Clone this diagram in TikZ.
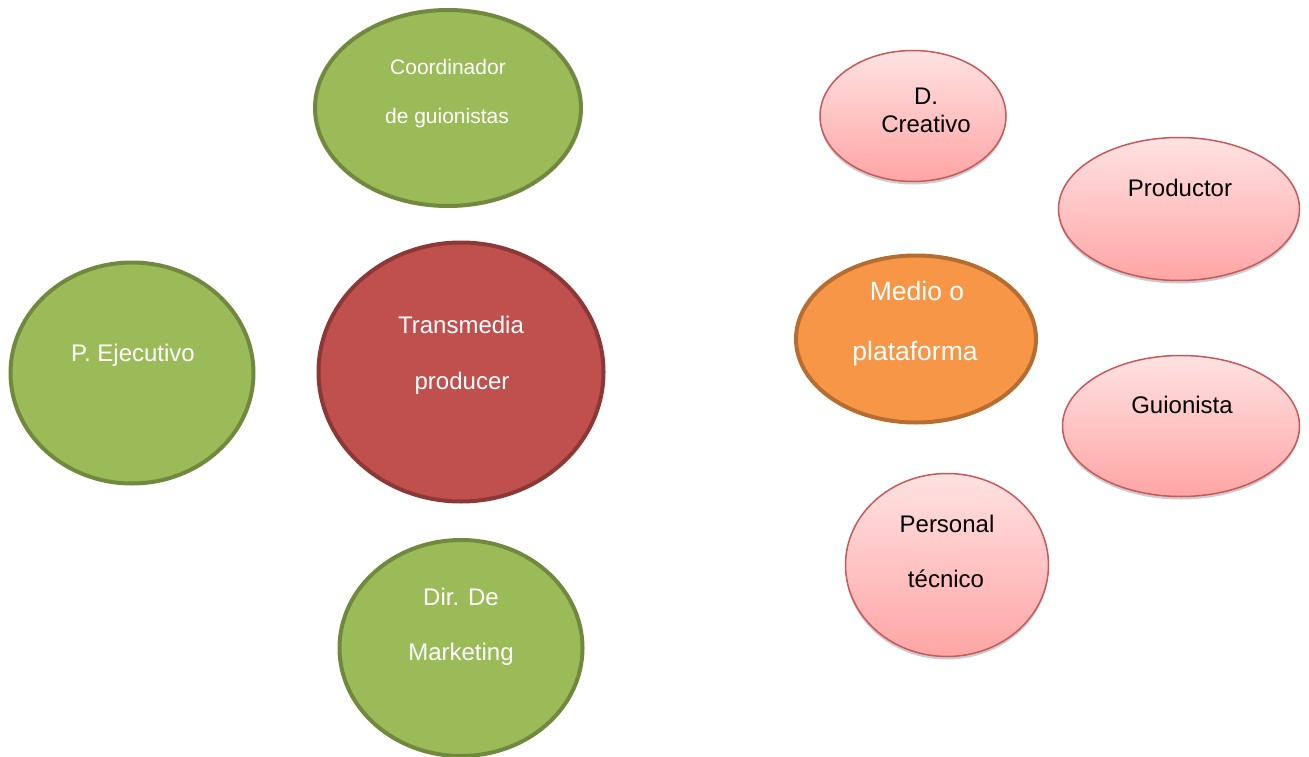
\documentclass[tikz,border=0pt]{standalone}
\usepackage{fontspec}
\setmainfont{Liberation Sans}
\usetikzlibrary{shapes.geometric,shadows}
\definecolor{gfill}{HTML}{9BBB59}
\definecolor{gline}{HTML}{71893F}
\definecolor{rfill}{HTML}{C0504D}
\definecolor{rline}{HTML}{8C3836}
\definecolor{ofill}{HTML}{F79646}
\definecolor{oline}{HTML}{B66D31}
\definecolor{ptop}{HTML}{FFE2E2}
\definecolor{pbot}{HTML}{FFA5A5}
\definecolor{pline}{HTML}{C9585A}
\tikzset{
  oval/.style={ellipse, inner sep=0pt},
  greenoval/.style={oval, fill=gfill, draw=gline, line width=4pt},
  redoval/.style={oval, fill=rfill, draw=rline, line width=4pt},
  orangeoval/.style={oval, fill=ofill, draw=oline, line width=4pt},
  pinkoval/.style={oval, top color=ptop, bottom color=pbot, draw=pline, line width=1.5pt,
     drop shadow={shadow xshift=0pt, shadow yshift=-3pt, opacity=0.2, fill=black}},
  wtxt/.style={anchor=mid, inner sep=0pt, text=white, font=\fontsize{24}{24}\selectfont},
  btxt/.style={anchor=mid, inner sep=0pt, text=black, font=\fontsize{24}{24}\selectfont},
}
\begin{document}
\begin{tikzpicture}[x=1pt,y=-1pt]
\useasboundingbox (0,0) rectangle (1309,757);
% green / red
\node[greenoval, minimum width=266pt, minimum height=196pt] (coord) at (448,108) {};
\node[greenoval, minimum width=243pt, minimum height=221pt] (ejec) at (132,373) {};
\node[redoval, minimum width=285pt, minimum height=259pt] (trans) at (461,372) {};
\node[greenoval, minimum width=243pt, minimum height=216pt] (mark) at (461,648) {};
% right group
\node[pinkoval, minimum width=186pt, minimum height=131pt] (creat) at (913,116) {};
\node[pinkoval, minimum width=241pt, minimum height=143pt] (prod) at (1179,209) {};
\node[orangeoval, minimum width=240pt, minimum height=167pt] (medio) at (916,339) {};
\node[pinkoval, minimum width=237pt, minimum height=141pt] (guion) at (1181,426) {};
\node[pinkoval, minimum width=203pt, minimum height=183pt] (pers) at (947,565) {};
% texts
\node[wtxt, font=\fontsize{21}{21}\selectfont] (t1) at (448,72) {Coordinador};
\node[wtxt, font=\fontsize{21}{21}\selectfont] (t2) at (447,121) {de guionistas};
\node[wtxt] (t3) at (133,359) {P. Ejecutivo};
\node[wtxt] (t4) at (461,331) {Transmedia};
\node[wtxt] (t5) at (462,387) {producer};
\node[wtxt] (t6) at (461,603) {Dir. De};
\node[wtxt] (t7) at (461,658) {Marketing};
\node[btxt] (t8) at (926,102) {D.};
\node[btxt] (t9) at (926,130) {Creativo};
\node[btxt] (t10) at (1180,194) {Productor};
\node[wtxt, font=\fontsize{26.5}{26.5}\selectfont] (t11) at (917,298) {Medio o};
\node[wtxt, font=\fontsize{26.5}{26.5}\selectfont] (t12) at (915,358) {plataforma};
\node[btxt] (t13) at (1182,411) {Guionista};
\node[btxt] (t14) at (947,530) {Personal};
\node[btxt] (t15) at (946,585) {técnico};
\end{tikzpicture}
\end{document}
